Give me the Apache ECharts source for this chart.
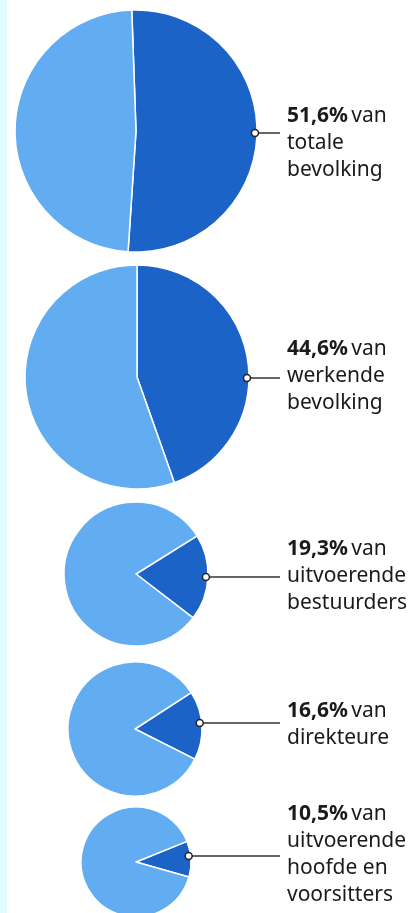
<!DOCTYPE html>
<html>
<head>
<meta charset="utf-8">
<script src="https://cdn.jsdelivr.net/npm/echarts@6/dist/echarts.min.js"></script>
<style>
  html, body { margin: 0; padding: 0; }
  body { background: linear-gradient(to right, #e0fbff 0, #e0fbff 7px, #ffffff 7px); }
  #chart { width: 412px; height: 913px; }
</style>
</head>
<body>
<div id="chart"></div>
<script>
// share of women (%) in each group
const shares = [51.6, 44.6, 19.3, 16.6, 10.5];
const shareLabels = ['51,6%', '44,6%', '19,3%', '16,6%', '10,5%'];
const groupLines = [
  ['totale', 'bevolking'],
  ['werkende', 'bevolking'],
  ['uitvoerende', 'bestuurders'],
  ['direkteure'],
  ['uitvoerende', 'hoofde en', 'voorsitters']
];

// layout of each pie
const centers = [[136, 131], [137, 377], [136, 574], [135, 729], [136, 862]];
const radii = [121, 112, 72, 67, 55];
const startAngles = [92, 90, 32, 33, 22];
const textTops = [103, 336, 536, 698, 801];
const markerYs = [133, 378, 577, 723, 856];
const textX = 287;
const lineEndX = 280;

const darkBlue = '#1c63c8';
const lightBlue = '#62adf1';

function markerX(i) {
  const dy = markerYs[i] - centers[i][1];
  return centers[i][0] + Math.sqrt(radii[i] * radii[i] - dy * dy) - 2;
}

const series = shares.map((v, i) => {
  const mx = markerX(i);
  const my = markerYs[i];
  return {
    type: 'pie',
    center: centers[i],
    radius: [0, radii[i]],
    startAngle: startAngles[i],
    clockwise: true,
    silent: true,
    itemStyle: { borderColor: '#ffffff', borderWidth: 1.5 },
    labelLine: { show: true, lineStyle: { color: '#333333', width: 1.5 } },
    labelLayout: {
      x: textX,
      y: textTops[i],
      align: 'left',
      verticalAlign: 'top',
      labelLinePoints: [[mx, my], [mx + 1, my], [lineEndX, my]]
    },
    data: [
      {
        value: v,
        name: shareLabels[i],
        itemStyle: { color: darkBlue },
        label: {
          show: true,
          position: 'outside',
          overflow: 'none',
          formatter: '{b|' + shareLabels[i] + '} {n|van}\n' +
            groupLines[i].map(t => '{n|' + t + '}').join('\n'),
          rich: {
            b: { fontFamily: 'Noto Sans', fontSize: 21, fontWeight: 'bold', color: '#1a1a1a', lineHeight: 27 },
            n: { fontFamily: 'Noto Sans', fontSize: 21, color: '#1a1a1a', lineHeight: 27 }
          }
        }
      },
      {
        value: 100 - v,
        name: 'ander',
        itemStyle: { color: lightBlue },
        label: { show: false },
        labelLine: { show: false }
      }
    ]
  };
});

const markers = shares.map((v, i) => ({
  type: 'circle',
  z: 100,
  shape: { cx: markerX(i), cy: markerYs[i], r: 3.5 },
  style: { fill: '#ffffff', stroke: '#222222', lineWidth: 1.5 }
}));

const chart = echarts.init(document.getElementById('chart'));
chart.setOption({
  animation: false,
  series: series,
  graphic: markers
});
</script>
</body>
</html>
